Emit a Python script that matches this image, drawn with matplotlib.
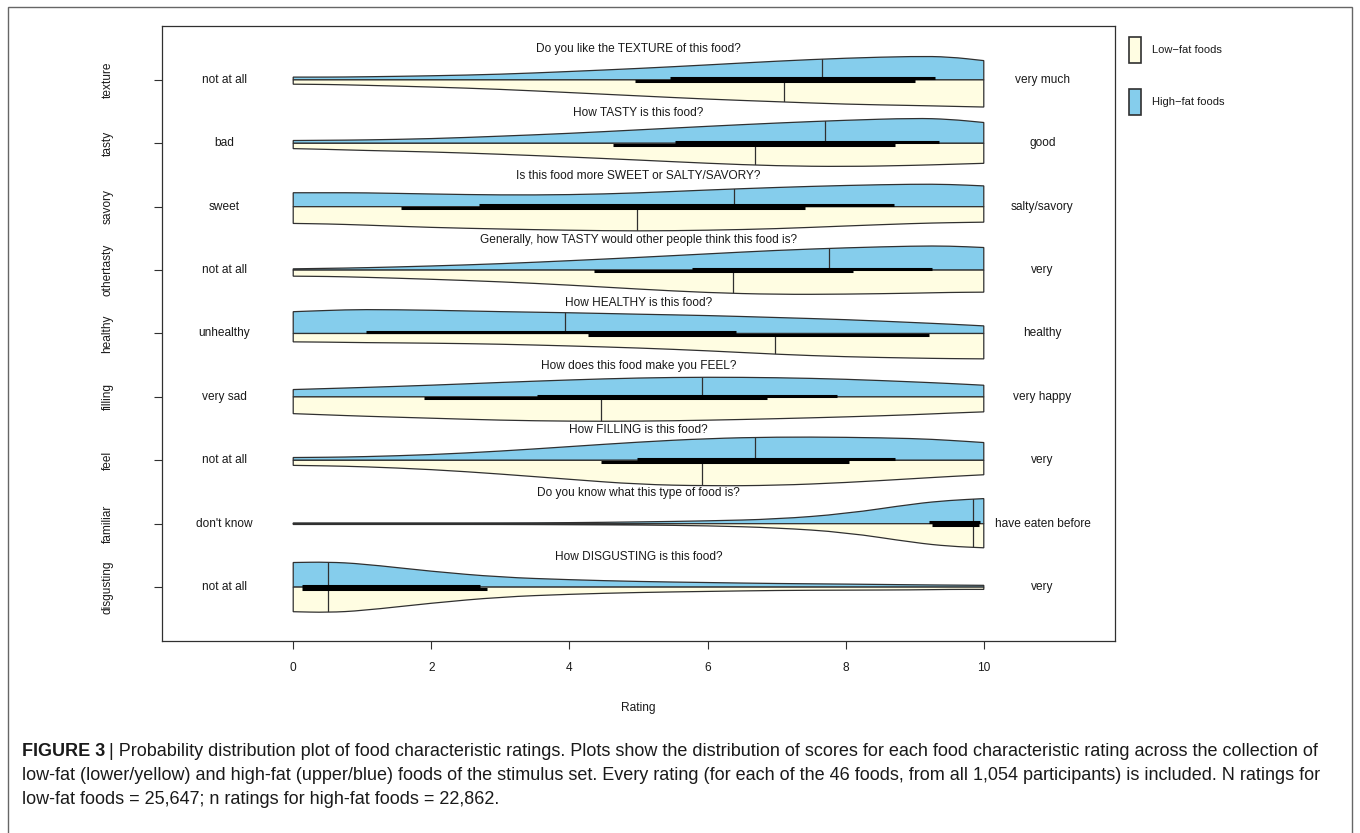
import matplotlib
matplotlib.use("Agg")
import matplotlib.pyplot as plt
from matplotlib.path import Path
from matplotlib.patches import PathPatch, Rectangle

plt.rcParams['font.family'] = ['Liberation Sans', 'DejaVu Sans']

# rows from top to bottom
rows = ['texture', 'tasty', 'savory', 'othertasty', 'healthy',
        'filling', 'feel', 'familiar', 'disgusting']
questions = ['Do you like the TEXTURE of this food?',
             'How TASTY is this food?',
             'Is this food more SWEET or SALTY/SAVORY?',
             'Generally, how TASTY would other people think this food is?',
             'How HEALTHY is this food?',
             'How does this food make you FEEL?',
             'How FILLING is this food?',
             'Do you know what this type of food is?',
             'How DISGUSTING is this food?']
left_anchor = ['not at all', 'bad', 'sweet', 'not at all', 'unhealthy',
               'very sad', 'not at all', "don't know", 'not at all']
right_anchor = ['very much', 'good', 'salty/savory', 'very', 'healthy',
                'very happy', 'very', 'have eaten before', 'very']

# rating grid where the density outlines were read
grid = [0, 0.5, 1, 2, 3, 4, 5, 6, 7, 8, 9, 9.5, 10]

# relative density (upper half = high-fat, lower half = low-fat)
high_width = [
    [0.11, 0.11, 0.12, 0.16, 0.22, 0.33, 0.45, 0.59, 0.74, 0.86, 0.93, 0.91, 0.76],
    [0.11, 0.12, 0.13, 0.18, 0.28, 0.39, 0.53, 0.67, 0.80, 0.91, 0.99, 0.95, 0.82],
    [0.55, 0.55, 0.55, 0.50, 0.46, 0.47, 0.54, 0.66, 0.76, 0.84, 0.89, 0.88, 0.82],
    [0.05, 0.07, 0.09, 0.16, 0.25, 0.37, 0.50, 0.64, 0.78, 0.88, 0.95, 0.95, 0.89],
    [0.86, 0.91, 0.95, 0.92, 0.86, 0.82, 0.76, 0.71, 0.63, 0.55, 0.43, 0.37, 0.30],
    [0.29, 0.33, 0.37, 0.46, 0.57, 0.67, 0.75, 0.78, 0.76, 0.70, 0.59, 0.53, 0.46],
    [0.11, 0.12, 0.14, 0.22, 0.36, 0.54, 0.72, 0.86, 0.92, 0.91, 0.86, 0.79, 0.70],
    [0.03, 0.03, 0.03, 0.03, 0.03, 0.04, 0.07, 0.11, 0.18, 0.39, 0.79, 0.92, 0.99],
    [0.97, 0.99, 0.92, 0.62, 0.39, 0.29, 0.22, 0.18, 0.14, 0.12, 0.09, 0.08, 0.07],
]
low_width = [
    [0.17, 0.18, 0.21, 0.28, 0.37, 0.50, 0.63, 0.76, 0.86, 0.96, 1.01, 1.04, 1.07],
    [0.21, 0.24, 0.28, 0.34, 0.43, 0.54, 0.66, 0.79, 0.89, 0.92, 0.87, 0.83, 0.79],
    [0.66, 0.68, 0.72, 0.82, 0.88, 0.93, 0.96, 0.93, 0.87, 0.76, 0.66, 0.63, 0.61],
    [0.24, 0.25, 0.28, 0.36, 0.46, 0.59, 0.75, 0.89, 0.96, 0.95, 0.91, 0.88, 0.87],
    [0.33, 0.34, 0.36, 0.38, 0.42, 0.49, 0.57, 0.68, 0.82, 0.92, 0.97, 0.99, 1.00],
    [0.66, 0.71, 0.76, 0.84, 0.92, 0.96, 0.96, 0.92, 0.86, 0.79, 0.70, 0.64, 0.59],
    [0.20, 0.22, 0.25, 0.36, 0.54, 0.75, 0.95, 1.01, 0.99, 0.88, 0.72, 0.64, 0.57],
    [0.03, 0.03, 0.03, 0.03, 0.03, 0.04, 0.05, 0.08, 0.16, 0.34, 0.75, 0.89, 0.95],
    [0.97, 1.00, 0.93, 0.63, 0.39, 0.28, 0.21, 0.17, 0.13, 0.12, 0.11, 0.09, 0.09],
]

high_median = [7.66, 7.70, 6.38, 7.76, 3.93, 5.92, 6.68, 9.85, 0.51]
low_median = [7.10, 6.69, 4.98, 6.37, 6.98, 4.46, 5.92, 9.85, 0.51]
high_bar_start = [5.45, 5.53, 2.69, 5.77, 1.05, 3.53, 4.98, 9.21, 0.13]
high_bar_end = [9.30, 9.35, 8.70, 9.25, 6.41, 7.87, 8.71, 9.95, 2.71]
low_bar_start = [4.95, 4.63, 1.56, 4.36, 4.27, 1.89, 4.46, 9.25, 0.13]
low_bar_end = [9.01, 8.71, 7.41, 8.10, 9.21, 6.86, 8.05, 9.93, 2.81]

HIGH_COLOR = '#85cdec'
LOW_COLOR = '#fffde2'
EDGE = '#303030'
TXT = '#1a1a1a'
WIDTH = 0.40   # data units for relative density 1.0
FS = 8.6


def bean_patch(xs, ws, center, sign, color):
    pts = [(x, center + sign * w * WIDTH) for x, w in zip(xs, ws)]
    mid = lambda a, b: ((a[0] + b[0]) / 2, (a[1] + b[1]) / 2)
    verts = [(xs[0], center), pts[0], mid(pts[0], pts[1])]
    codes = [Path.MOVETO, Path.LINETO, Path.LINETO]
    for i in range(1, len(pts) - 1):
        verts += [pts[i], mid(pts[i], pts[i + 1])]
        codes += [Path.CURVE3, Path.CURVE3]
    verts += [pts[-1], (xs[-1], center), (xs[0], center)]
    codes += [Path.LINETO, Path.LINETO, Path.CLOSEPOLY]
    return PathPatch(Path(verts, codes), facecolor=color, edgecolor=EDGE,
                     lw=0.9, zorder=2)


W, H = 1360, 833
fig = plt.figure(figsize=(W / 100, H / 100), dpi=100)
ax = fig.add_axes([162 / W, 1 - 641 / H, (1115 - 162) / W, (641 - 26) / H])

n = len(rows)
centers = [n - i for i in range(n)]

for i, c in enumerate(centers):
    up = bean_patch(grid, high_width[i], c, 1, HIGH_COLOR)
    lo = bean_patch(grid, low_width[i], c, -1, LOW_COLOR)
    ax.add_patch(up)
    ax.add_patch(lo)

    ln, = ax.plot([high_median[i]] * 2, [c, c + 0.6], color=EDGE, lw=0.9, zorder=3)
    ln.set_clip_path(up)
    ln, = ax.plot([low_median[i]] * 2, [c, c - 0.6], color=EDGE, lw=0.9, zorder=3)
    ln.set_clip_path(lo)

    ax.plot([high_bar_start[i], high_bar_end[i]], [c + 0.022] * 2, color='black',
            lw=2.2, solid_capstyle='butt', zorder=4)
    ax.plot([low_bar_start[i], low_bar_end[i]], [c - 0.022] * 2, color='black',
            lw=2.2, solid_capstyle='butt', zorder=4)

    ax.text(5, c + 0.48, questions[i], ha='center', va='center', fontsize=FS, color=TXT)
    ax.text(-1.0, c, left_anchor[i], ha='center', va='center', fontsize=FS, color=TXT)
    ax.text(10.85, c, right_anchor[i], ha='center', va='center', fontsize=FS, color=TXT)

ax.set_xlim(-1.9, 11.9)
ax.set_ylim(0.15, n + 0.85)
ax.set_xticks([0, 2, 4, 6, 8, 10])
ax.set_xticklabels(['0', '2', '4', '6', '8', '10'], fontsize=FS, color=TXT)
ax.set_yticks(centers)
ax.set_yticklabels(rows, rotation=90, va='center', fontsize=FS, color=TXT)
ax.tick_params(axis='x', length=6, width=0.8, pad=9, color=EDGE)
ax.tick_params(axis='y', length=6, width=0.8, pad=29, color=EDGE)
for s in ax.spines.values():
    s.set_linewidth(0.9)
    s.set_color(EDGE)

fig.text(638 / W, 1 - 708 / H, 'Rating', ha='center', va='center', fontsize=FS, color=TXT)

# legend outside the plot
legend_labels = ['Low\u2212fat foods', 'High\u2212fat foods']
legend_colors = [LOW_COLOR, HIGH_COLOR]
for k, (lab, col) in enumerate(zip(legend_labels, legend_colors)):
    top = 37 + 52 * k
    fig.add_artist(Rectangle((1129 / W, 1 - (top + 26) / H), 12 / W, 26 / H,
                             transform=fig.transFigure, facecolor=col,
                             edgecolor=EDGE, lw=1.2))
    fig.text(1152 / W, 1 - (top + 13) / H, lab, ha='left', va='center',
             fontsize=8, color=TXT)

# outer frame of the figure panel
fig.add_artist(Rectangle((8 / W, -0.01), (1352 - 8) / W, 1.01 - 7 / H,
                         transform=fig.transFigure, fill=False,
                         edgecolor='#666666', lw=1.0))

# caption
cap_fs = 13
cap_lines = [
    'Probability distribution plot of food characteristic ratings. Plots show the distribution of scores for each food characteristic rating across the collection of',
    'low-fat (lower/yellow) and high-fat (upper/blue) foods of the stimulus set. Every rating (for each of the 46 foods, from all 1,054 participants) is included. N ratings for',
    'low-fat foods = 25,647; n ratings for high-fat foods = 22,862.',
]
cap_y = [752, 776, 799]
renderer = fig.canvas.get_renderer()
bold = fig.text(22 / W, 1 - cap_y[0] / H, 'FIGURE 3', fontsize=cap_fs,
                fontweight='bold', ha='left', va='center', color=TXT)
bb = bold.get_window_extent(renderer)
fig.text((bb.x1 + 4) / W, 1 - cap_y[0] / H, '| ' + cap_lines[0], fontsize=cap_fs,
         ha='left', va='center', color=TXT)
for line, y in zip(cap_lines[1:], cap_y[1:]):
    fig.text(22 / W, 1 - y / H, line, fontsize=cap_fs, ha='left', va='center', color=TXT)

fig.savefig('out.png', dpi=100)
